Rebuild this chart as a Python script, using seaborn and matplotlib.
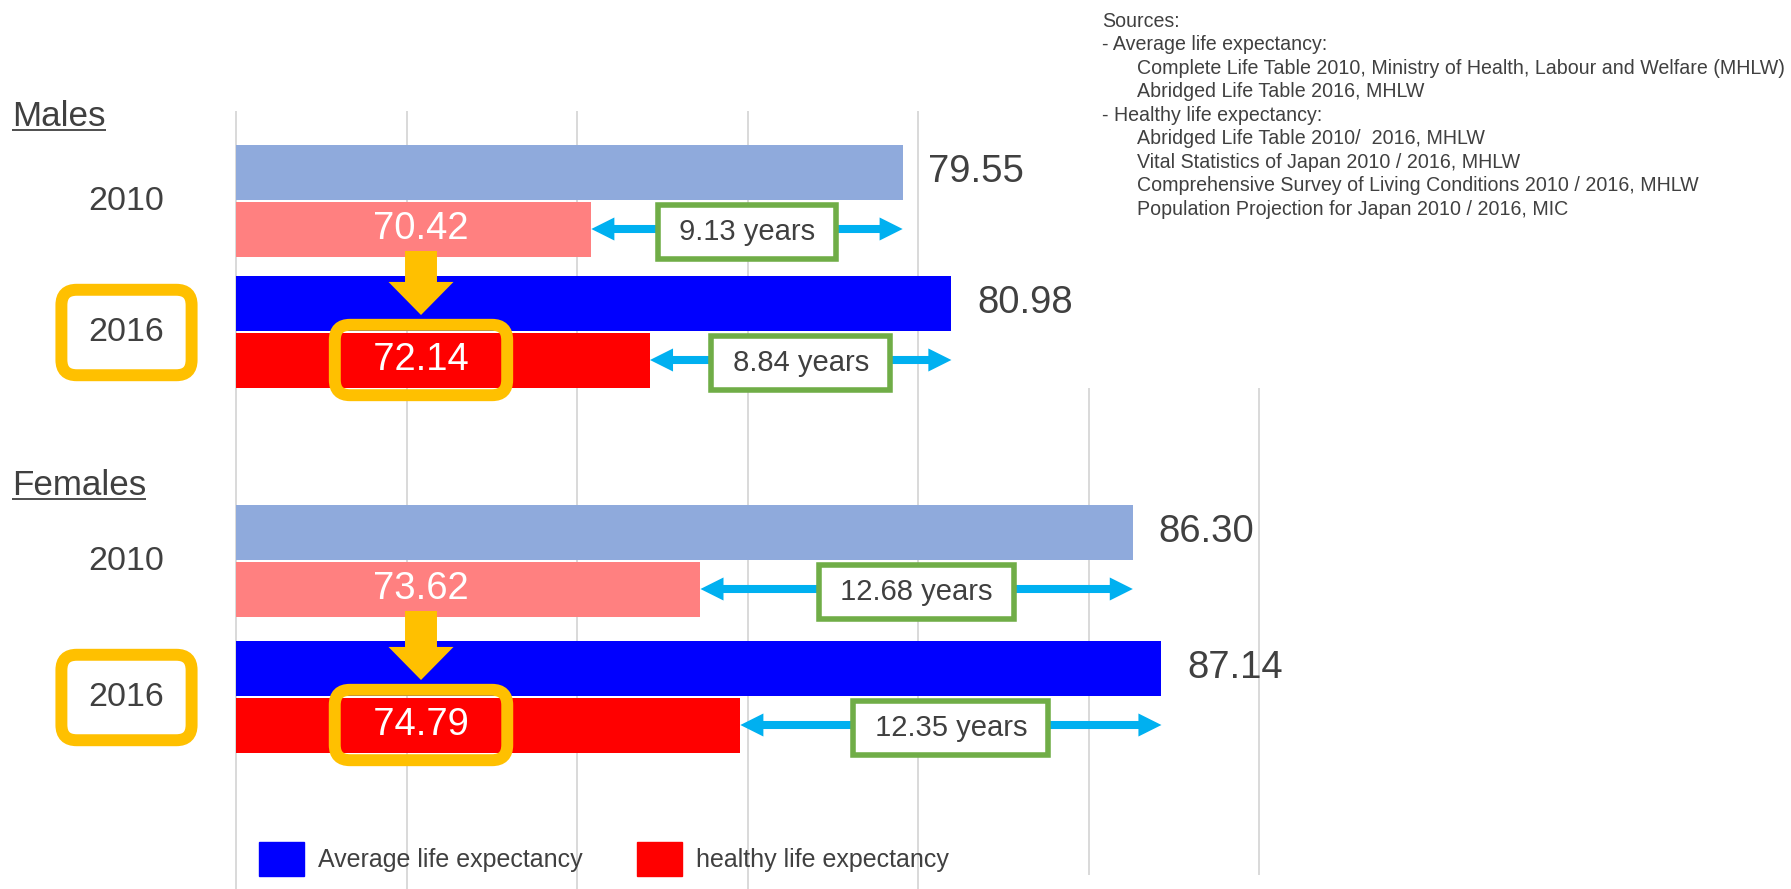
import matplotlib
matplotlib.use("Agg")
import matplotlib.pyplot as plt
import seaborn as sns
import pandas as pd
from matplotlib.patches import Patch

# ---------------- data ----------------
sexes = ["Males", "Females"]
years = ["2010", "2016"]
avg_life = [[79.55, 80.98], [86.30, 87.14]]
healthy_life = [[70.42, 72.14], [73.62, 74.79]]
gap_years = [[9.13, 8.84], [12.68, 12.35]]
legend_labels = ["Average life expectancy", "healthy life expectancy"]
grid_values = [60, 65, 70, 75, 80, 85, 90]
source_lines = [
    "Sources:",
    "- Average life expectancy:",
    "Complete Life Table 2010, Ministry of Health, Labour and Welfare (MHLW)",
    "Abridged Life Table 2016, MHLW",
    "- Healthy life expectancy:",
    "Abridged Life Table 2010/  2016, MHLW",
    "Vital Statistics of Japan 2010 / 2016, MHLW",
    "Comprehensive Survey of Living Conditions 2010 / 2016, MHLW",
    "Population Projection for Japan 2010 / 2016, MIC",
]
source_indent = [0, 0, 1, 1, 0, 1, 1, 1, 1]

# ---------------- layout ----------------
W, H = 1791, 889
X0_PX = 236          # pixel column of value 60
PPY = 34.1           # pixels per year
X_START = 60
bar_rows = [[172, 229, 303, 360], [532, 589, 668, 725]]   # bar centres (px from top)
title_baseline = [126, 495]
TXT = "#404040"
ORANGE = "#FFC000"
GREEN = "#70AD47"
CYAN = "#00B0F0"
palette = {"avg2010": "#8FAADC", "healthy2010": "#FF8080",
           "avg2016": "#0000FF", "healthy2016": "#FF0000"}


def dx(p):
    return X_START + (p - X0_PX) / PPY


sns.set_style("white")
plt.rcParams["font.family"] = ["Liberation Sans", "DejaVu Sans"]

fig = plt.figure(figsize=(W / 100, H / 100), dpi=100)
ax = fig.add_axes([X0_PX / W, 0, 1 - X0_PX / W, 1])

rows = []
for si in range(len(sexes)):
    for yi, yr in enumerate(years):
        rows.append(dict(value=avg_life[si][yi], ypos=bar_rows[si][2 * yi], kind=f"avg{yr}"))
        rows.append(dict(value=healthy_life[si][yi], ypos=bar_rows[si][2 * yi + 1], kind=f"healthy{yr}"))
df = pd.DataFrame(rows)

sns.barplot(data=df, x="value", y="ypos", hue="kind", hue_order=list(palette),
            palette=palette, orient="h", native_scale=True, dodge=False,
            saturation=1, width=55 / 57, errorbar=None, legend=False,
            linewidth=0, ax=ax, zorder=2)

ax.set_xlim(X_START, X_START + (W - X0_PX) / PPY)
ax.set_ylim(H, 0)
ax.set_axis_off()

# gridlines
ax.vlines([g for g in grid_values if g <= 80], 111, 889, color="#D0D0D0", lw=1.1, zorder=0, clip_on=False)
ax.vlines([g for g in grid_values if g > 80], 388, 875, color="#D0D0D0", lw=1.1, zorder=0, clip_on=False)

label_x = dx(421)
year_x = dx(126.5)
titles = []
for si, sex in enumerate(sexes):
    r = bar_rows[si]
    t = ax.text(dx(12), title_baseline[si], sex, fontsize=25.2, color=TXT,
                ha="left", va="baseline", clip_on=False)
    titles.append((t, title_baseline[si]))
    for yi, yr in enumerate(years):
        ya, yh = r[2 * yi], r[2 * yi + 1]
        a, h = avg_life[si][yi], healthy_life[si][yi]
        ymid = (ya + yh) / 2 + 1
        if yi == 0:
            ax.text(year_x, ymid, yr, fontsize=24.5, color=TXT, ha="center", va="center", clip_on=False)
            ax.text(label_x, yh, f"{h:.2f}", fontsize=27.5, color="white",
                    ha="center", va="center", zorder=5)
        else:
            ax.text(year_x, ymid, yr, fontsize=24.5, color=TXT, ha="center", va="center", clip_on=False,
                    bbox=dict(boxstyle="round,pad=0.8,rounding_size=0.45", fc="white",
                              ec=ORANGE, lw=8.6))
            ax.text(label_x, yh, f"  {h:.2f}  ", fontsize=27.5, color="white",
                    ha="center", va="center", zorder=5,
                    bbox=dict(boxstyle="round,pad=0.45,rounding_size=0.4", fc="none",
                              ec=ORANGE, lw=8.6))
        # value to the right of the average bar
        ax.text(a + 0.75, ya, f"{a:.2f}", fontsize=27.5, color=TXT, ha="left", va="center")
        # double arrow between healthy and average
        mid = (a + h) / 2
        for end in (h, a):
            ax.annotate("", xy=(end, yh), xytext=(mid, yh),
                        arrowprops=dict(arrowstyle="simple,head_length=16.6,head_width=16.6,tail_width=5.8",
                                        mutation_scale=1, color=CYAN, lw=0, shrinkA=0, shrinkB=0),
                        zorder=3)
        ax.text(mid, yh + 3, f" {gap_years[si][yi]:.2f} years ", fontsize=21, color=TXT,
                ha="center", va="center", zorder=6,
                bbox=dict(boxstyle="square,pad=0.45", fc="white", ec=GREEN, lw=4))
    # orange arrow from 2010 healthy to 2016 healthy
    ax.annotate("", xy=(label_x, r[2] + 12), xytext=(label_x, r[1] + 22),
                arrowprops=dict(arrowstyle="simple,head_length=23.8,head_width=46.8,tail_width=23",
                                mutation_scale=1, color=ORANGE, lw=0, shrinkA=0, shrinkB=0),
                zorder=4)

# sources
for i, line in enumerate(source_lines):
    ax.text(dx(1137 if source_indent[i] else 1102), 26.7 + 23.5 * i, line, fontsize=14.1,
            color=TXT, ha="left", va="baseline", clip_on=False)

# legend
handles = [Patch(color=palette["avg2016"]), Patch(color=palette["healthy2016"])]
ax.legend(handles, legend_labels, loc="center left", bbox_to_anchor=(259 / W, 1 - 859 / H),
          bbox_transform=fig.transFigure, frameon=False, fontsize=18, labelcolor=TXT,
          handlelength=1.8, handleheight=1.76, handletextpad=0.55, columnspacing=2.2,
          ncol=2, borderpad=0, borderaxespad=0)

# underline titles
fig.canvas.draw()
rend = fig.canvas.get_renderer()
inv = ax.transData.inverted()
for t, base in titles:
    bb = t.get_window_extent(renderer=rend)
    (x0, _), (x1, _) = inv.transform([[bb.x0, 0], [bb.x1, 0]])
    ax.plot([x0, x1], [base + 3.5, base + 3.5], color=TXT, lw=1.3, clip_on=False,
            solid_capstyle="butt")

fig.savefig("out.png", dpi=100)
